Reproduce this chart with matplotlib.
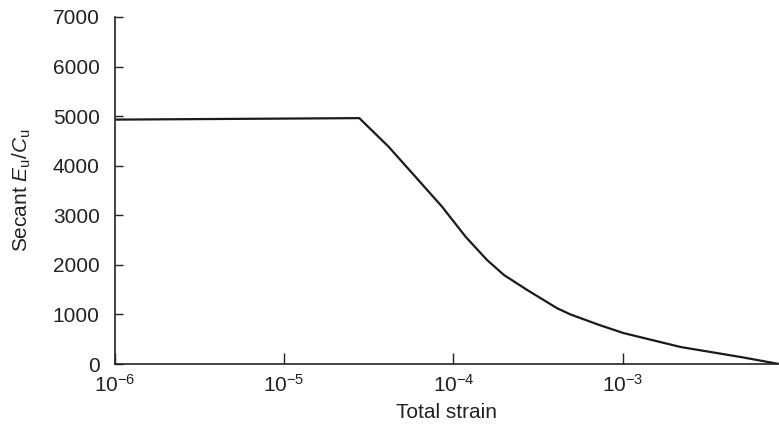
import matplotlib
matplotlib.use("Agg")
import matplotlib.pyplot as plt
from matplotlib.ticker import LogLocator, LogFormatterMathtext, NullLocator

plt.rcParams['font.family'] = ['Liberation Sans', 'DejaVu Sans']
plt.rcParams['mathtext.fontset'] = 'custom'
plt.rcParams['mathtext.rm'] = 'Liberation Sans'
plt.rcParams['mathtext.it'] = 'Liberation Sans:italic'
plt.rcParams['mathtext.bf'] = 'Liberation Sans:bold'

# Data
strain = [1e-6, 2.78e-5, 4.14e-5, 5.96e-5, 8.57e-5, 1.18e-4, 1.58e-4, 1.99e-4,
          2.73e-4, 4.11e-4, 4.92e-4, 7.24e-4, 1.01e-3, 2.2e-3, 4.99e-3, 8.4e-3]
secant = [4930, 4960, 4383, 3778, 3173, 2568, 2098, 1795,
          1493, 1123, 1000, 790, 625, 343, 141, 0]
yticks = [0, 1000, 2000, 3000, 4000, 5000, 6000, 7000]
xlim = (1e-6, 8.4e-3)

fig = plt.figure(figsize=(7.79, 4.28), dpi=100)
ax = fig.add_axes([115/779, 64/428, 664/779, 347/428])

ax.plot(strain, secant, color='#1a1a1a', lw=1.6, solid_joinstyle='round')
ax.set_xscale('log')
ax.set_xlim(*xlim)
ax.set_ylim(0, 7000)
ax.set_yticks(yticks)
ax.xaxis.set_major_locator(LogLocator(base=10, numticks=10))
ax.xaxis.set_major_formatter(LogFormatterMathtext())
ax.xaxis.set_minor_locator(NullLocator())

for s in ['top', 'right']:
    ax.spines[s].set_visible(False)
for s in ['left', 'bottom']:
    ax.spines[s].set_linewidth(1.2)
    ax.spines[s].set_color('#222222')

ax.tick_params(axis='y', direction='in', length=6, width=1.0, labelsize=15, pad=11, colors='#222222')
ax.tick_params(axis='x', direction='in', length=8, width=1.0, labelsize=15, pad=7, colors='#222222')
for lbl in ax.get_xticklabels() + ax.get_yticklabels():
    lbl.set_color('#222222')

ax.set_xlabel('Total strain', fontsize=15, color='#222222', labelpad=5)
ax.set_ylabel(r'Secant $\mathit{E}_{\mathrm{u}}/\mathit{C}_{\mathrm{u}}$', fontsize=15,
              color='#222222', labelpad=14)

fig.savefig('out.png', dpi=100)
